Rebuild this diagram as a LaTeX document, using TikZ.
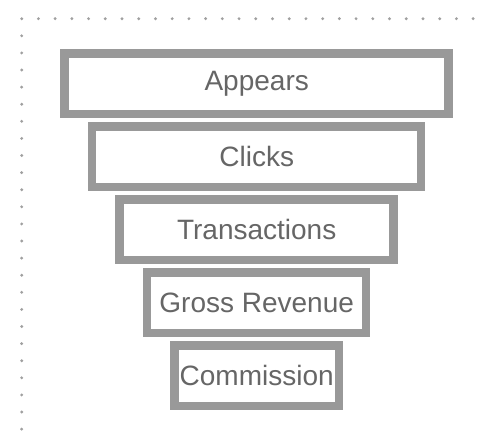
\documentclass[tikz,border=0pt]{standalone}
\usepackage{fontspec}
\setmainfont{Liberation Sans}
\definecolor{framegray}{HTML}{999999}
\definecolor{labelgray}{HTML}{666666}
\definecolor{dotgray}{HTML}{A0A0A0}
\begin{document}
\begin{tikzpicture}[x=1pt,y=-1pt,
  stage/.style={draw=framegray, line width=8.5pt, fill=white, rectangle,
    minimum height=60.5pt, inner sep=0pt, text=labelgray,
    font=\fontsize{28}{34}\selectfont},
  griddot/.style={fill=dotgray, draw=none}]
\useasboundingbox (0,0) rectangle (480,440);
% dotted frame corner
\foreach \i in {0,...,27} \fill[griddot] (21.7+16.72*\i,18.7) circle (1.6pt);
\foreach \j in {1,...,24} \fill[griddot] (21.7,18.7+17.1*\j) circle (1.6pt);
% funnel stages
\node[stage, minimum width=384pt] (appears) at (256.7,83.5) {Appears};
\node[stage, minimum width=329pt] (clicks) at (256.7,156.5) {Clicks};
\node[stage, minimum width=274pt] (trans) at (256.7,229.5) {Transactions};
\node[stage, minimum width=219pt] (gross) at (256.7,302.5) {Gross Revenue};
\node[stage, minimum width=164.5pt] (comm) at (256.7,375.5) {Commission};
\end{tikzpicture}
\end{document}
